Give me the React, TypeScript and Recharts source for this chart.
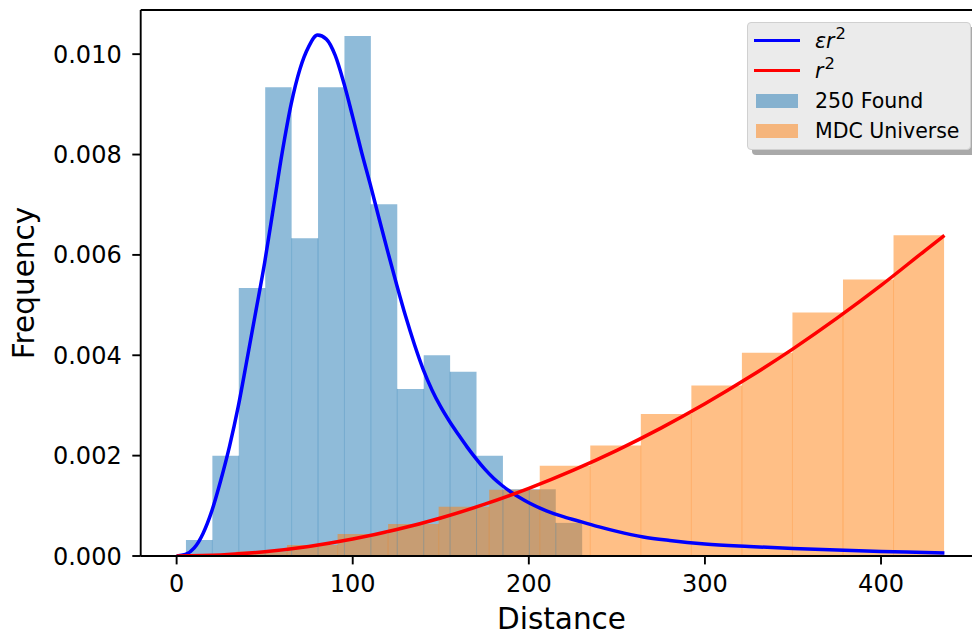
import {
  ComposedChart,
  Line,
  XAxis,
  YAxis,
  ReferenceArea,
  ReferenceLine,
  Legend,
} from 'recharts'

// histogram bins of the found sample (left edges + last right edge)
const foundEdges = [5.3, 20.3, 35.3, 50.3, 65.3, 80.3, 95.3, 110.3, 125.3, 140.3, 155.3, 170.3, 185.3, 200.3, 215.3, 230.3]
const foundDensity = [0.00032, 0.0020, 0.00534, 0.00934, 0.00633, 0.00934, 0.01036, 0.00701, 0.00333, 0.0040, 0.00367, 0.0020, 0.00133, 0.00133, 0.00066]

// histogram bins of the MDC universe
const universeEdges = [5.3, 34.0, 62.7, 91.4, 120.1, 148.8, 177.5, 206.2, 234.9, 263.6, 292.3, 321.0, 349.7, 378.4, 407.1, 435.8]
const universeDensity = [0.00002, 0.00009, 0.00022, 0.00044, 0.00064, 0.00098, 0.00132, 0.0018, 0.0022, 0.00283, 0.0034, 0.00405, 0.00485, 0.00551, 0.00639]

// eps * r^2 curve
const effR = [0, 5, 10, 15, 20, 25, 30, 35, 40, 45, 50, 55, 60, 65, 70, 75, 80, 85, 90, 95, 100, 105, 110, 115, 120, 125, 130, 135, 140, 145, 150, 155, 160, 165, 170, 175, 180, 185, 190, 195, 200, 210, 220, 230, 240, 250, 265, 280, 300, 325, 350, 375, 400, 425, 436]
const effY = [0, 0.00003, 0.00016, 0.00045, 0.0009, 0.0015, 0.00218, 0.00298, 0.00392, 0.00488, 0.00585, 0.00695, 0.00805, 0.009, 0.0097, 0.01015, 0.01038, 0.0103, 0.00998, 0.00942, 0.00875, 0.00805, 0.0074, 0.00672, 0.00605, 0.0054, 0.00478, 0.00422, 0.00372, 0.00331, 0.00297, 0.00268, 0.00242, 0.00217, 0.00194, 0.00173, 0.00155, 0.0014, 0.00127, 0.00116, 0.00106, 0.0009, 0.00078, 0.00068, 0.00058, 0.00049, 0.00038, 0.00031, 0.00024, 0.00019, 0.00015, 0.00012, 0.00009, 0.00007, 0.00006]

// r^2 curve
const sqR = [0, 25, 50, 75, 100, 125, 150, 175, 200, 225, 250, 275, 300, 325, 350, 375, 400, 425, 436]
const sqY = [0, 0.000021, 0.000084, 0.00019, 0.000337, 0.000527, 0.000758, 0.001032, 0.001348, 0.001706, 0.002106, 0.002549, 0.003033, 0.00356, 0.004128, 0.004739, 0.005392, 0.006087, 0.00639]

const xTicks = [0, 100, 200, 300, 400]
const yTicks = [0, 0.002, 0.004, 0.006, 0.008, 0.01]

const legendItems = [
  { kind: 'line', color: '#0000ff', label: 'eps' },
  { kind: 'line', color: '#ff0000', label: 'sq' },
  { kind: 'patch', color: 'rgba(31,119,180,0.5)', label: '250 Found' },
  { kind: 'patch', color: 'rgba(255,127,14,0.5)', label: 'MDC Universe' },
]

const FONT = '"DejaVu Sans", sans-serif'
const Y_MAX = 0.01088

const effData = effR.map((x, i) => ({ x, y: effY[i] }))
const sqData = sqR.map((x, i) => ({ x, y: sqY[i] }))

// inner bin boundaries, drawn as faint seams like matplotlib's adjacent patches
const seams = (edges: number[], heights: number[]) =>
  edges.slice(1, -1).map((x, i) => ({ x, h: Math.min(heights[i], heights[i + 1]) }))

const Sup = () => (
  <span style={{ fontSize: '0.8em', fontStyle: 'normal', position: 'relative', top: '-0.55em', marginLeft: 1 }}>2</span>
)

function LegendLabel({ label }: { label: string }) {
  if (label === 'eps') {
    return (
      <span>
        <i>εr</i>
        <Sup />
      </span>
    )
  }
  if (label === 'sq') {
    return (
      <span>
        <i>r</i>
        <Sup />
      </span>
    )
  }
  return <span>{label}</span>
}

function LegendBox() {
  return (
    <div
      style={{
        position: 'relative',
        width: 224,
        height: 128,
        boxSizing: 'border-box',
        background: '#ebebeb',
        border: '1.5px solid #d0d0d0',
        borderRadius: 4,
        boxShadow: '5px 5px 0 #a9a9a9',
        fontFamily: FONT,
        fontSize: 20.5,
        color: '#000',
      }}
    >
      {legendItems.map((item, i) => (
        <div
          key={i}
          style={{
            position: 'absolute',
            left: 0,
            top: 3 + i * 30.1,
            height: 30,
            width: '100%',
            display: 'flex',
            alignItems: 'center',
          }}
        >
          {item.kind === 'line' ? (
            <div style={{ position: 'absolute', left: 6, width: 46, height: 3, background: item.color }} />
          ) : (
            <div style={{ position: 'absolute', left: 8, width: 42, height: 14.5, background: item.color }} />
          )}
          <div style={{ position: 'absolute', left: 67, whiteSpace: 'nowrap' }}>
            <LegendLabel label={item.label} />
          </div>
        </div>
      ))}
    </div>
  )
}

export default function App() {
  return (
    <div
      style={{
        position: 'fixed',
        left: 0,
        top: 0,
        width: 972,
        height: 636,
        overflow: 'hidden',
        background: '#fff',
        fontFamily: FONT,
      }}
    >
      <ComposedChart
        width={1000}
        height={636}
        margin={{ top: 10, right: 18.6, bottom: 40, left: 40.7 }}
        style={{ fontFamily: FONT }}
      >
        <XAxis
          type="number"
          dataKey="x"
          domain={[-20.4, 457]}
          ticks={xTicks}
          allowDataOverflow
          height={40}
          tickSize={8.4}
          tickMargin={11}
          axisLine={{ stroke: '#000', strokeWidth: 1.9 }}
          tickLine={{ stroke: '#000', strokeWidth: 1.9 }}
          tick={{ fill: '#000', fontSize: 24, fontFamily: FONT }}
        />
        <YAxis
          type="number"
          domain={[0, Y_MAX]}
          ticks={yTicks}
          allowDataOverflow
          width={100}
          tickSize={8.4}
          tickMargin={10.6}
          tickFormatter={(v: number) => v.toFixed(3)}
          axisLine={{ stroke: '#000', strokeWidth: 1.9 }}
          tickLine={{ stroke: '#000', strokeWidth: 1.9 }}
          tick={{ fill: '#000', fontSize: 24, fontFamily: FONT }}
        />
        <ReferenceLine y={Y_MAX} stroke="#000" strokeWidth={1.9} ifOverflow="visible" />

        {foundDensity.map((h, i) => (
          <ReferenceArea
            key={`f-${i}`}
            x1={foundEdges[i]}
            x2={foundEdges[i + 1]}
            y1={0}
            y2={h}
            fill="#1f77b4"
            fillOpacity={0.5}
            stroke="none"
            ifOverflow="visible"
          />
        ))}
        {seams(foundEdges, foundDensity).map((s, i) => (
          <ReferenceLine
            key={`fs-${i}`}
            segment={[{ x: s.x, y: 0 }, { x: s.x, y: s.h }]}
            stroke="#1f77b4"
            strokeOpacity={0.3}
            strokeWidth={1}
            ifOverflow="visible"
          />
        ))}
        {universeDensity.map((h, i) => (
          <ReferenceArea
            key={`u-${i}`}
            x1={universeEdges[i]}
            x2={universeEdges[i + 1]}
            y1={0}
            y2={h}
            fill="#ff7f0e"
            fillOpacity={0.5}
            stroke="none"
            ifOverflow="visible"
          />
        ))}
        {seams(universeEdges, universeDensity).map((s, i) => (
          <ReferenceLine
            key={`us-${i}`}
            segment={[{ x: s.x, y: 0 }, { x: s.x, y: s.h }]}
            stroke="#ff7f0e"
            strokeOpacity={0.3}
            strokeWidth={1}
            ifOverflow="visible"
          />
        ))}

        <Line
          data={effData}
          dataKey="y"
          type="monotone"
          stroke="#0000ff"
          strokeWidth={3.5}
          dot={false}
          activeDot={false}
          isAnimationActive={false}
        />
        <Line
          data={sqData}
          dataKey="y"
          type="monotone"
          stroke="#ff0000"
          strokeWidth={3.5}
          dot={false}
          activeDot={false}
          isAnimationActive={false}
        />

        <Legend
          layout="vertical"
          align="center"
          verticalAlign="middle"
          content={() => <LegendBox />}
          wrapperStyle={{ left: 747, top: 21.7 }}
        />

        <text x={561.5} y={628.5} textAnchor="middle" fontSize={29.5} fontFamily={FONT} fill="#000">
          Distance
        </text>
        <text
          x={34}
          y={283}
          textAnchor="middle"
          fontSize={29.5}
          fontFamily={FONT}
          fill="#000"
          transform="rotate(-90 34 283)"
        >
          Frequency
        </text>
      </ComposedChart>
    </div>
  )
}
